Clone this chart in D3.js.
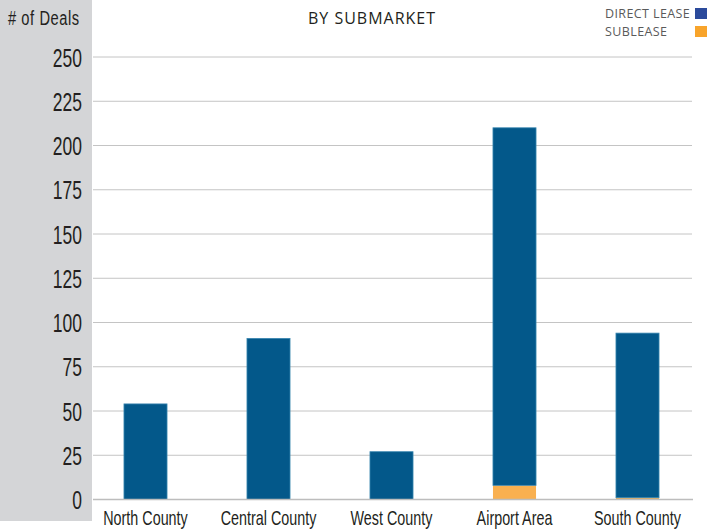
<!DOCTYPE html>
<html>
<head>
<meta charset="utf-8">
<script src="https://cdn.jsdelivr.net/npm/d3@7"></script>
<style>
  body { margin: 0; background: #fff; }
  svg { display: block; }
</style>
</head>
<body>
<svg id="canvas" width="708" height="529"></svg>
<script>
const submarkets = ["North County", "Central County", "West County", "Airport Area", "South County"];
const directLease = [54, 91, 27, 202, 93];
const sublease = [0, 0, 0, 8, 1];
const yTicks = [0, 25, 50, 75, 100, 125, 150, 175, 200, 225, 250];
const seriesNames = ["DIRECT LEASE", "SUBLEASE"];

let canvas = d3.select("#canvas");

// no condensed face installed, so squeeze a plain sans horizontally
const narrowFont = "'Liberation Sans', Arial, sans-serif";
const squeeze = "scale(0.7,1)";

// gray panel behind the y axis
canvas.append("rect")
      .attr("x", 0).attr("y", 0)
      .attr("width", 92).attr("height", 521)
      .attr("fill", "#d4d5d7");

let xScale = d3.scaleBand()
               .domain(submarkets)
               .range([84, 699])
               .paddingInner(0.65)
               .paddingOuter(0.325);

let yScale = d3.scaleLinear()
               .domain([0, 250])
               .range([499.5, 57]);

// grid lines
canvas.append("g")
      .selectAll("line")
      .data(yTicks.filter((t) => t > 0))
      .enter()
      .append("line")
      .attr("x1", 93).attr("x2", 692)
      .attr("y1", (t) => yScale(t)).attr("y2", (t) => yScale(t))
      .attr("stroke", "#c4c4c4")
      .attr("stroke-width", 1);

// y axis labels
let yAxis = d3.axisLeft(yScale).tickValues(yTicks).tickSize(0).tickPadding(0);
let yG = canvas.append("g")
               .attr("transform", "translate(82,0)")
               .call(yAxis);
yG.select(".domain").remove();
yG.selectAll("text")
  .attr("x", 0)
  .attr("dy", "0.36em")
  .attr("transform", squeeze)
  .attr("font-family", narrowFont)
  .attr("font-size", 25)
  .attr("fill", "#231f20");

// stacked bars
let rows = submarkets.map((name, i) => ({ name: name, direct: directLease[i], sub: sublease[i] }));
let stacked = d3.stack().keys(["sub", "direct"])(rows);
let colors = { sub: "#f9b050", direct: "#03588a" };

canvas.append("g")
      .selectAll("g")
      .data(stacked)
      .enter()
      .append("g")
      .attr("fill", (s) => colors[s.key])
      .selectAll("rect")
      .data((s) => s.filter((d) => d[1] > d[0]).map((d) => ({ key: s.key, d: d })))
      .enter()
      .append("rect")
      .attr("x", (o) => xScale(o.d.data.name))
      .attr("width", xScale.bandwidth())
      .attr("y", (o) => yScale(o.d[1]))
      .attr("height", (o) => yScale(o.d[0]) - yScale(o.d[1]))
      .attr("stroke", (o) => o.key === "direct" ? "#3a86b0" : "none")
      .attr("stroke-width", 0.8);

// baseline
canvas.append("line")
      .attr("x1", 93).attr("x2", 693)
      .attr("y1", yScale(0)).attr("y2", yScale(0))
      .attr("stroke", "#bdbdbd")
      .attr("stroke-width", 1.5);

// x axis labels
let xAxis = d3.axisBottom(xScale).tickSize(0).tickPadding(0);
let xG = canvas.append("g")
               .attr("transform", "translate(0,525)")
               .call(xAxis);
xG.select(".domain").remove();
xG.selectAll("text")
  .attr("y", 0)
  .attr("dy", 0)
  .attr("transform", squeeze)
  .attr("font-family", narrowFont)
  .attr("font-size", 20.5)
  .attr("fill", "#231f20");

// y axis title
canvas.append("g")
      .attr("transform", "translate(8,25) " + squeeze)
      .append("text")
      .attr("font-family", narrowFont)
      .attr("font-size", 21)
      .attr("letter-spacing", 0.8)
      .attr("fill", "#231f20")
      .text("# of Deals");

// chart title
canvas.append("text")
      .attr("x", 372).attr("y", 24)
      .attr("text-anchor", "middle")
      .attr("font-family", "'Open Sans', sans-serif")
      .attr("font-size", 16)
      .attr("letter-spacing", 1)
      .attr("fill", "#231f20")
      .text("BY SUBMARKET");

// legend
let legendColors = ["#2b4a9b", "#f8a42b"];
let legend = canvas.append("g")
                   .selectAll("g")
                   .data(seriesNames)
                   .enter()
                   .append("g")
                   .attr("transform", (n, i) => `translate(0,${i * 18})`);
legend.append("text")
      .attr("x", 605).attr("y", 18)
      .attr("font-family", "'Open Sans', sans-serif")
      .attr("font-size", 12.5)
      .attr("letter-spacing", 0.4)
      .attr("fill", "#5a5a5a")
      .text((n) => n);
legend.append("rect")
      .attr("x", 695).attr("y", 8)
      .attr("width", 12).attr("height", 11)
      .attr("fill", (n, i) => legendColors[i]);
</script>
</body>
</html>
